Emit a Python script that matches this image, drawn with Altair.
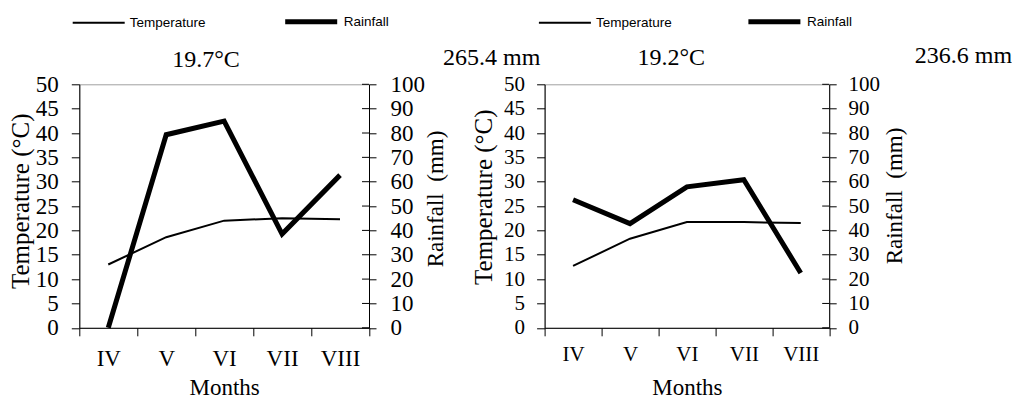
import altair as alt
import pandas as pd

# ---------------- data ----------------
months = ["IV", "V", "VI", "VII", "VIII"]
series = ["Temperature", "Rainfall"]

temp_a = [13.0, 18.6, 22.0, 22.5, 22.3]
rain_a = [0.0, 79.3, 84.9, 38.5, 62.7]
summary_a = ["19.7°C", "265.4 mm"]

temp_b = [12.7, 18.3, 21.7, 21.7, 21.5]
rain_b = [52.6, 42.8, 57.9, 60.8, 22.5]
summary_b = ["19.2°C", "236.6 mm"]

temp_ticks = [0, 5, 10, 15, 20, 25, 30, 35, 40, 45, 50]
rain_ticks = [0, 10, 20, 30, 40, 50, 60, 70, 80, 90, 100]

SERIF = "Liberation Serif"
SANS = "Liberation Sans"
H = 243.5


def panel(temp, rain, summary, p):
    df_t = pd.DataFrame({"month": months, "value": temp, "series": series[0]})
    df_r = pd.DataFrame({"month": months, "value": rain, "series": series[1]})

    xenc = alt.X(
        "month:N", sort=months,
        scale=alt.Scale(type="band", domain=months, paddingInner=0, paddingOuter=0),
        axis=alt.Axis(
            title="Months", tickBand="extent", tickSize=8, tickColor="black",
            domainColor="black", labelAngle=0, labelFont=SERIF,
            labelFontSize=p["xfs"], labelColor="black", labelBaseline="alphabetic",
            labelPadding=p["xlab_pad"], titleFont=SERIF, titleFontSize=23,
            titleFontWeight="normal", titleColor="black",
            titleBaseline="alphabetic", titleY=66.5, grid=False,
        ),
    )

    sw = alt.StrokeWidth(
        "series:N",
        scale=alt.Scale(domain=series, range=[2, 5]),
        legend=alt.Legend(
            title=None, orient="none", legendX=p["lx"], legendY=p["ly"],
            direction="horizontal", symbolType="stroke", symbolSize=2704,
            symbolStrokeColor="black", labelFont=SANS, labelFontSize=13.5,
            labelColor="black", labelOffset=4, columnPadding=p["cp"], padding=0,
        ),
    )

    temp_layer = alt.Chart(df_t).mark_line(color="black").encode(
        x=xenc,
        y=alt.Y(
            "value:Q", scale=alt.Scale(domain=[0, 50]),
            axis=alt.Axis(
                orient="left", values=temp_ticks, title="Temperature (°C)",
                tickSize=8, tickColor="black", domainColor="black",
                labelFont=SERIF, labelFontSize=p["yfs"], labelColor="black",
                labelPadding=p["lpad_l"], labelFlush=False, labelOverlap=False,
                titleFont=SERIF, titleFontSize=25, titleFontWeight="normal",
                titleColor="black", titleAngle=270, titleAlign="center",
                titleBaseline="alphabetic", titleX=p["tx_l"], titleY=p["ty_l"],
                grid=False,
            ),
        ),
        strokeWidth=sw,
    )

    rain_layer = alt.Chart(df_r).mark_line(color="black").encode(
        x=xenc,
        y=alt.Y(
            "value:Q", scale=alt.Scale(domain=[0, 100]),
            axis=alt.Axis(
                orient="right", values=rain_ticks, title="Rainfall\u00a0 (mm)",
                tickSize=7, tickColor="black", domainColor="black",
                labelFont=SERIF, labelFontSize=p["yfs"], labelColor="black",
                labelPadding=p["lpad_r"], labelFlush=False, labelOverlap=False,
                titleFont=SERIF, titleFontSize=23, titleFontWeight="normal",
                titleColor="black", titleAngle=270, titleAlign="center",
                titleBaseline="alphabetic", titleX=p["tx_r"], titleY=p["ty_r"],
                grid=False,
            ),
        ),
        strokeWidth=sw,
    )

    inner_ticks = alt.Chart(pd.DataFrame({"tick": rain_ticks})).mark_rule(
        color="black", strokeWidth=1
    ).encode(
        y=alt.Y("tick:Q", scale=alt.Scale(domain=[0, 100]), axis=None),
        x=alt.value(p["w"] - 7),
        x2=alt.value(p["w"]),
    )

    t_mean = alt.Chart(pd.DataFrame({"label": [summary[0]]})).mark_text(
        font=SERIF, fontSize=24, align="center", baseline="alphabetic", color="black"
    ).encode(text="label:N", x=alt.value(p["m_x"]), y=alt.value(p["m_y"]))

    t_sum = alt.Chart(pd.DataFrame({"label": [summary[1]]})).mark_text(
        font=SERIF, fontSize=24, align="left", baseline="alphabetic", color="black"
    ).encode(text="label:N", x=alt.value(p["s_x"]), y=alt.value(p["s_y"]))

    return alt.layer(temp_layer, rain_layer, inner_ticks, t_mean, t_sum).resolve_scale(
        y="independent"
    ).properties(width=p["w"], height=H)


left = panel(temp_a, rain_a, summary_a, dict(
    w=289.7, xfs=23, yfs=23, xlab_pad=29.2, lpad_l=13, lpad_r=14,
    tx_l=-51, ty_l=116.5, tx_r=73, ty_r=114.2,
    lx=-7.6, ly=-91.3, cp=69,
    m_x=126.7, m_y=-17.6, s_x=363.7, s_y=-19.3,
))

right = panel(temp_b, rain_b, summary_b, dict(
    w=284.6, xfs=21, yfs=21, xlab_pad=24.2, lpad_l=12, lpad_r=11.7,
    tx_l=-53.2, ty_l=112.4, tx_r=72.6, ty_r=111.2,
    lx=-6.7, ly=-91.3, cp=66,
    m_x=126.7, m_y=-19.3, s_x=370.2, s_y=-21,
))

chart = alt.hconcat(left, right, spacing=175.3, bounds="flush").resolve_scale(
    strokeWidth="independent"
).resolve_legend(strokeWidth="independent").properties(
    autosize=alt.AutoSizeParams(type="none"),
    padding={"left": 71.3, "top": 76.3, "right": 932.7, "bottom": 307.7},
).configure_view(stroke="#a0a0a0", strokeWidth=1)

chart.save("out.html", embed_options={"renderer": "svg", "actions": False})
